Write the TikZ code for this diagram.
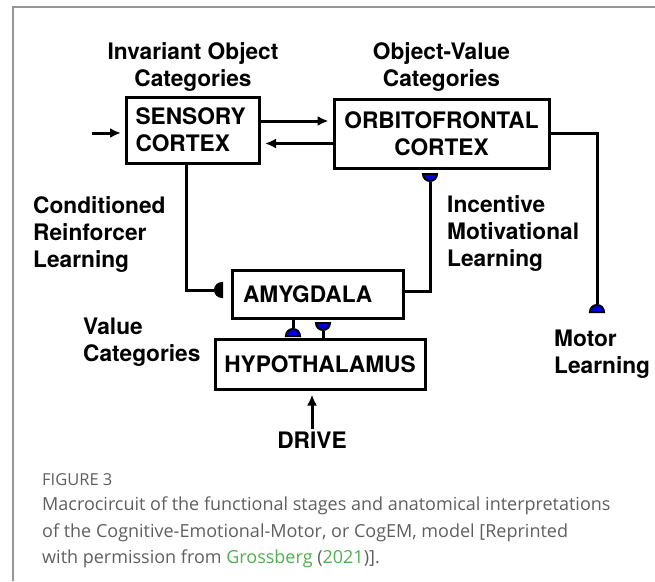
\documentclass[tikz,border=0pt]{standalone}
\usepackage{fontspec}
\setmainfont{TeX Gyre Heros}
\newfontfamily\capfont{Open Sans}
\usetikzlibrary{shapes.geometric, arrows.meta, positioning, calc}
\definecolor{colSyn}{RGB}{0,0,225}
\definecolor{colFrame}{RGB}{150,150,150}
\definecolor{colCaption}{RGB}{95,95,95}
\definecolor{colLink}{RGB}{80,175,80}
\newcommand{\lblfont}{\fontsize{22.7}{27}\selectfont\bfseries}
\tikzset{
    area/.style={rectangle, draw, line width=3pt, font=\lblfont, inner sep=0pt},
    tag/.style={font=\lblfont, align=left, inner sep=0pt, anchor=north west},
    wire/.style={line width=3pt},
    arrow/.style={-{Latex[length=11pt, width=10pt]}, line width=3pt, shorten >=4pt},
    syn/.style={semicircle, draw, line width=2pt, fill=colSyn, inner sep=0pt, minimum size=7pt}
}

\begin{document}
\begin{tikzpicture}[x=1pt, y=-1pt]
    \useasboundingbox (0,0) rectangle (655,581);
    \draw[colFrame, line width=2pt] (13,581) -- (13,7) -- (655,7);

    % brain areas
    \node[area, minimum width=133pt, minimum height=66pt, text width=115pt, align=left] (sens) at (193,130) {SENSORY\\CORTEX};
    \node[area, minimum width=215pt, minimum height=69pt, align=center] (ofc) at (441.5,133.5) {ORBITOFRONTAL\\CORTEX};
    \node[area, minimum width=171pt, minimum height=48pt, text width=149pt, align=left] (amy) at (317.5,294) {AMYGDALA};
    \node[area, minimum width=210pt, minimum height=50pt] (hyp) at (320,364) {HYPOTHALAMUS};
    \node[font=\lblfont, inner sep=3pt] (drive) at (312,440) {DRIVE};
    \coordinate (src) at (92,133);

    % labels
    \node[font=\lblfont, align=center, inner sep=0pt, above=4pt of sens] (invcat) {Invariant Object\\Categories};
    \node[font=\lblfont, align=center, inner sep=0pt, above=6pt of ofc] (ovcat) {Object-Value\\Categories};
    \node[tag] (crl) at (33,196) {Conditioned\\Reinforcer\\Learning};
    \node[tag] (iml) at (447,195) {Incentive\\Motivational\\Learning};
    \node[tag] (vcat) at (83,318) {Value\\Categories};
    \node[tag] (motl) at (554,330) {Motor\\Learning};

    % synaptic terminals
    \node[syn, fill=black, shape border rotate=90, anchor=chord center] (crs) at (223,290) {};
    \node[syn, shape border rotate=180, anchor=chord center] (ims) at (430,173) {};
    \node[syn, anchor=chord center] (vls) at (293,337) {};
    \node[syn, shape border rotate=180, anchor=chord center] (vrs) at (323,322) {};
    \node[syn, anchor=chord center] (mls) at (597,313) {};

    \draw[arrow] (src) -- (src -| sens.west);
    \draw[arrow] ([yshift=9pt]sens.east) -- ([yshift=9pt]sens.east -| ofc.west);
    \draw[arrow] ([yshift=-10pt]ofc.west) -- ([yshift=-10pt]ofc.west -| sens.east);
    \draw[wire] ([xshift=-7pt]sens.south) |- (crs.apex);
    \draw[wire] (ims.apex) |- ([yshift=3pt]amy.east);
    \draw[wire] (vls.apex) -- (vls.apex |- amy.south);
    \draw[wire] (vrs.apex) -- (vrs.apex |- hyp.north);
    \draw[wire] (ofc.east) -| (mls.apex);
    \draw[arrow] (drive.north) -- (drive.north |- hyp.south);

    % caption
    \node[font=\capfont\fontsize{16.5}{18}\selectfont, text=colCaption, inner sep=0pt, anchor=base west] (fig) at (42,485) {FIGURE 3};
    \node[font=\capfont\fontsize{18}{26.5}\selectfont, text=colCaption, inner sep=0pt, align=left, anchor=north west] (cap) at (42,497)
        {Macrocircuit of the functional stages and anatomical interpretations\\
         of the Cognitive-Emotional-Motor, or CogEM, model [Reprinted\\
         with permission from \textcolor{colLink}{Grossberg} (\textcolor{colLink}{2021})].};
\end{tikzpicture}
\end{document}
